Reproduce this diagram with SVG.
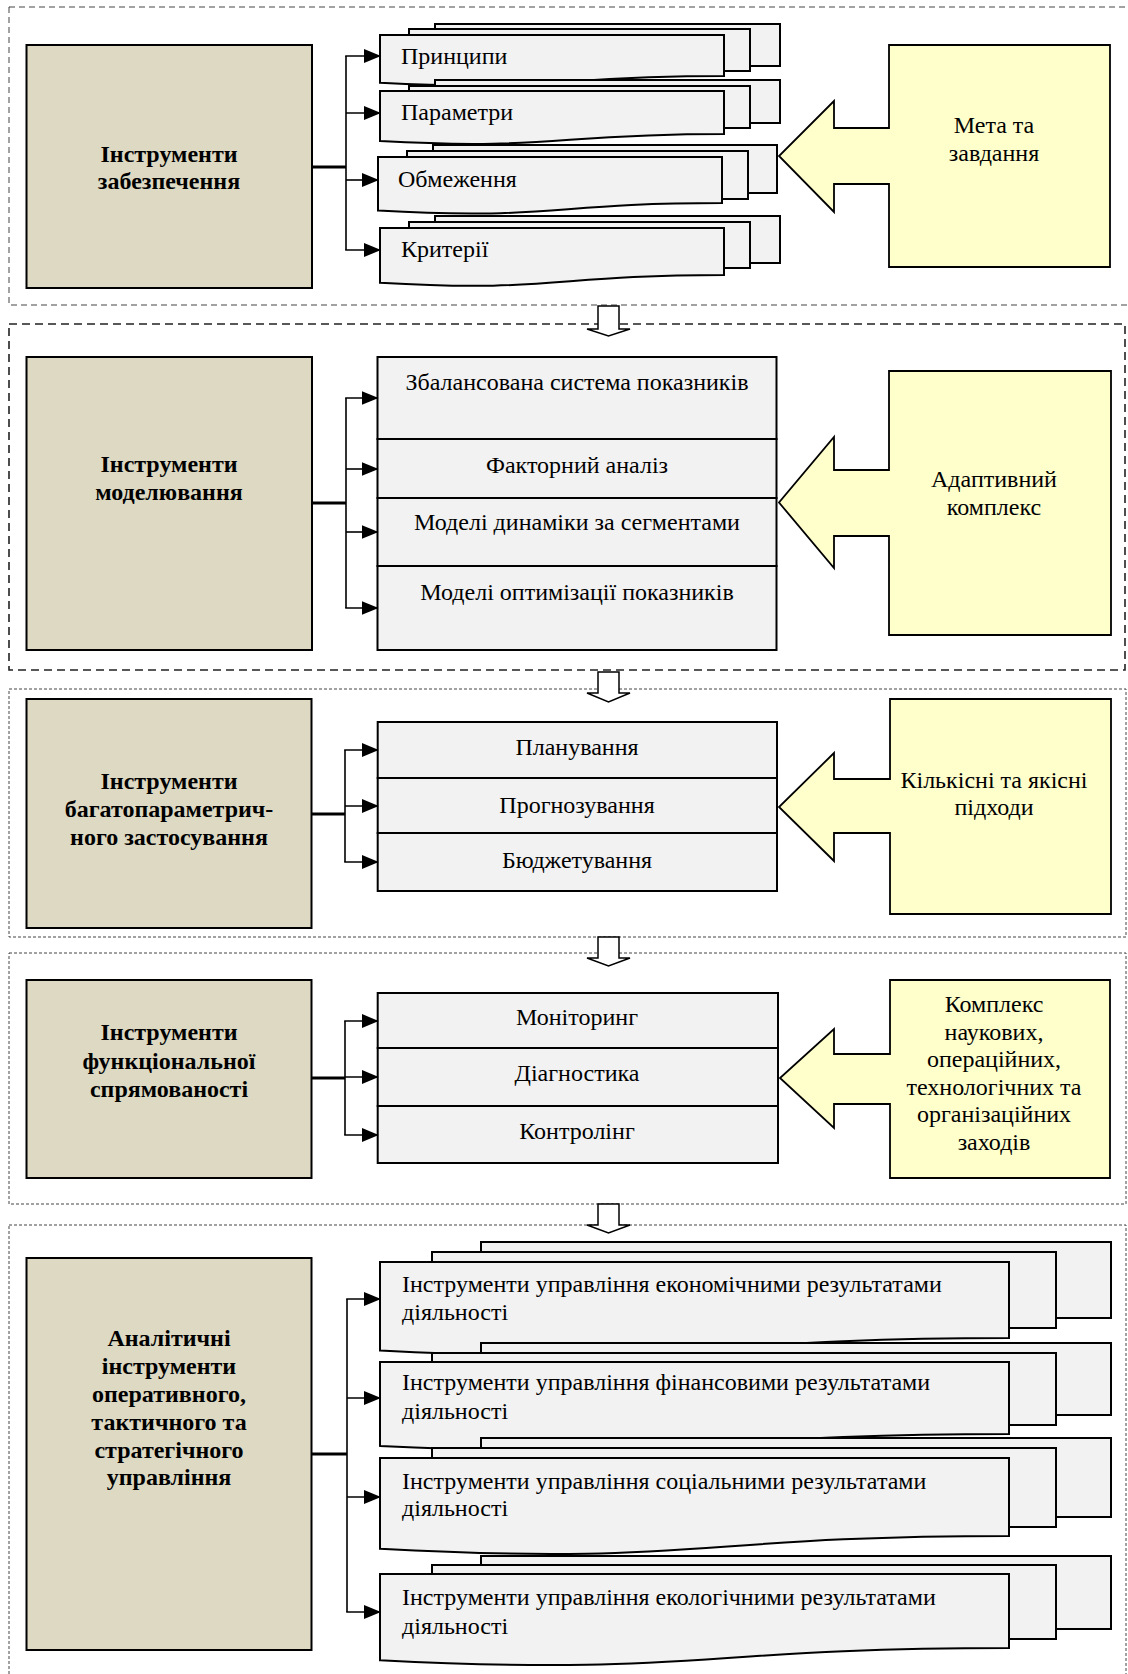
<svg xmlns="http://www.w3.org/2000/svg" width="1128" height="1674" viewBox="0 0 1128 1674">
<defs>
<marker id="ah" markerUnits="userSpaceOnUse" markerWidth="17" markerHeight="14" viewBox="0 0 17 14" refX="16" refY="7" orient="auto">
<path d="M0,0 L17,7 L0,14 Z" fill="#000"/>
</marker>
</defs>
<style>
text{font-family:"Liberation Serif","Times New Roman",serif;font-size:24px;fill:#000}
.b{font-weight:bold;text-anchor:middle}
.c{text-anchor:middle}
.tan{fill:#DDD9C3;stroke:#000;stroke-width:2}
.doc{fill:#F2F2F2;stroke:#000;stroke-width:2}
.yel{fill:#FFFFCC;stroke:#000;stroke-width:1.8}
.hol{fill:#fff;stroke:#000;stroke-width:1.5}
.f1{fill:none;stroke:#444;stroke-width:1;stroke-dasharray:6 4}
.f2{fill:none;stroke:#222;stroke-width:1.6;stroke-dasharray:8 5}
.f3{fill:none;stroke:#444;stroke-width:1;stroke-dasharray:3 2}
.ln{fill:none;stroke:#000;stroke-width:1.6}
.tr{fill:none;stroke:#000;stroke-width:3}
.ar{fill:none;stroke:#000;stroke-width:1.6;marker-end:url(#ah)}
</style>

<g id="frames">
<rect class="f1" x="9" y="7" width="1130" height="298"/>
<rect class="f2" x="9" y="324" width="1116" height="346"/>
<rect class="f3" x="9" y="689" width="1117" height="248"/>
<rect class="f3" x="9" y="953" width="1117" height="251"/>
<rect class="f3" x="9" y="1225" width="1117" height="480"/>
</g>

<g id="section-arrows">
<path class="hol" d="M598,306 H619 V329 H630 L608.5,336 L587,329 H598 Z"/>
<path class="hol" d="M598,672 H619 V693 H630 L608.5,702 L587,693 H598 Z"/>
<path class="hol" d="M598,937 H619 V958 H630 L608.5,966 L587,958 H598 Z"/>
<path class="hol" d="M598,1204 H619 V1225 H630 L608.5,1233 L587,1225 H598 Z"/>
</g>

<!-- Section 1 -->
<g id="n-zabezpechennya">
<rect class="tan" x="26.5" y="45" width="285.5" height="243"/>
<text class="b" x="169" y="162">Інструменти</text>
<text class="b" x="169" y="189">забезпечення</text>
</g>
<g id="n-pryntsypy">
<rect class="doc" x="435" y="24" width="345" height="42"/>
<rect class="doc" x="409" y="29" width="341" height="42"/>
<path class="doc" d="M380,35 H724 V76 C552,76 552,91.6 380,82.7 Z"/>
<text x="401" y="64">Принципи</text>
</g>
<g id="n-parametry">
<rect class="doc" x="435" y="80" width="345" height="43"/>
<rect class="doc" x="409" y="86" width="341" height="42"/>
<path class="doc" d="M380,91 H724 V134 C552,134 552,150.3 380,141.1 Z"/>
<text x="401" y="120">Параметри</text>
</g>
<g id="n-obmezhennya">
<rect class="doc" x="433" y="145" width="344" height="48"/>
<rect class="doc" x="407" y="151" width="341" height="48"/>
<path class="doc" d="M378,157 H722 V203 C550,203 550,220.5 378,210.6 Z"/>
<text x="398" y="187">Обмеження</text>
</g>
<g id="n-kryterii">
<rect class="doc" x="435" y="216" width="345" height="47"/>
<rect class="doc" x="409" y="222" width="341" height="46"/>
<path class="doc" d="M380,228 H724 V275 C552,275 552,292.9 380,282.7 Z"/>
<text x="401" y="257">Критерії</text>
</g>
<g id="n-meta">
<path class="yel" d="M889,45 H1110 V267 H889 V184 H834 V212 L779,156 L834,101 V128 H889 Z"/>
<text class="c" x="994" y="133">Мета та</text>
<text class="c" x="994" y="161">завдання</text>
</g>

<!-- Section 2 -->
<g id="n-modelyuvannya">
<rect class="tan" x="26.5" y="357" width="285.5" height="293"/>
<text class="b" x="169" y="472">Інструменти</text>
<text class="b" x="169" y="500">моделювання</text>
</g>
<g id="n-bsc">
<rect class="doc" x="377.5" y="357" width="399" height="82"/>
<text class="c" x="577" y="390">Збалансована система показників</text>
</g>
<g id="n-faktornyi">
<rect class="doc" x="377.5" y="439" width="399" height="59"/>
<text class="c" x="577" y="473">Факторний аналіз</text>
</g>
<g id="n-dynamika">
<rect class="doc" x="377.5" y="498" width="399" height="68"/>
<text class="c" x="577" y="530">Моделі динаміки за сегментами</text>
</g>
<g id="n-optymizatsiya">
<rect class="doc" x="377.5" y="566" width="399" height="84"/>
<text class="c" x="577" y="600">Моделі оптимізації показників</text>
</g>
<g id="n-adaptyvnyi">
<path class="yel" d="M889,371 H1111 V635 H889 V536 H834 V568 L779,502.5 L834,437 V470 H889 Z"/>
<text class="c" x="994" y="487">Адаптивний</text>
<text class="c" x="994" y="515">комплекс</text>
</g>

<!-- Section 3 -->
<g id="n-bagatoparam">
<rect class="tan" x="26.5" y="699" width="285" height="229"/>
<text class="b" x="169" y="789">Інструменти</text>
<text class="b" x="169" y="817">багатопараметрич-</text>
<text class="b" x="169" y="845">ного застосування</text>
</g>
<g id="n-planuvannya">
<rect class="doc" x="377.7" y="722" width="399.3" height="56"/>
<text class="c" x="577" y="755">Планування</text>
</g>
<g id="n-prognozuvannya">
<rect class="doc" x="377.7" y="778" width="399.3" height="55"/>
<text class="c" x="577" y="813">Прогнозування</text>
</g>
<g id="n-budzhetuvannya">
<rect class="doc" x="377.7" y="833" width="399.3" height="58"/>
<text class="c" x="577" y="868">Бюджетування</text>
</g>
<g id="n-pidkhody">
<path class="yel" d="M890,699 H1111 V914 H890 V833 H834 V861 L779,807 L834,753 V779 H890 Z"/>
<text class="c" x="994" y="788">Кількісні та якісні</text>
<text class="c" x="994" y="815">підходи</text>
</g>

<!-- Section 4 -->
<g id="n-funktsionalnoi">
<rect class="tan" x="26.5" y="980" width="285" height="198"/>
<text class="b" x="169" y="1040">Інструменти</text>
<text class="b" x="169" y="1069">функціональної</text>
<text class="b" x="169" y="1097">спрямованості</text>
</g>
<g id="n-monitorynh">
<rect class="doc" x="377.7" y="993" width="400.3" height="55"/>
<text class="c" x="577" y="1025">Моніторинг</text>
</g>
<g id="n-diagnostyka">
<rect class="doc" x="377.7" y="1048" width="400.3" height="58"/>
<text class="c" x="577" y="1081">Діагностика</text>
</g>
<g id="n-kontrolinh">
<rect class="doc" x="377.7" y="1106" width="400.3" height="57"/>
<text class="c" x="577" y="1139">Контролінг</text>
</g>
<g id="n-kompleks">
<path class="yel" d="M890,980 H1110 V1178 H890 V1104 H834 V1128 L780,1078 L834,1029 V1054 H890 Z"/>
<text class="c" x="994" y="1012">Комплекс</text>
<text class="c" x="994" y="1040">наукових,</text>
<text class="c" x="994" y="1067">операційних,</text>
<text class="c" x="994" y="1095">технологічних та</text>
<text class="c" x="994" y="1122">організаційних</text>
<text class="c" x="994" y="1150">заходів</text>
</g>

<!-- Section 5 -->
<g id="n-analitychni">
<rect class="tan" x="26.5" y="1258" width="285" height="392"/>
<text class="b" x="169" y="1346">Аналітичні</text>
<text class="b" x="169" y="1374">інструменти</text>
<text class="b" x="169" y="1402">оперативного,</text>
<text class="b" x="169" y="1430">тактичного та</text>
<text class="b" x="169" y="1458">стратегічного</text>
<text class="b" x="169" y="1485">управління</text>
</g>
<g id="n-ekonomichni">
<rect class="doc" x="481" y="1242" width="630" height="76"/>
<rect class="doc" x="432" y="1252" width="624" height="76"/>
<path class="doc" d="M380,1262 H1009 V1338 C694.5,1338 694.5,1366.9 380,1350.5 Z"/>
<text x="402" y="1292">Інструменти управління економічними результатами</text>
<text x="402" y="1320">діяльності</text>
</g>
<g id="n-finansovi">
<rect class="doc" x="481" y="1343" width="630" height="72"/>
<rect class="doc" x="432" y="1353" width="624" height="72"/>
<path class="doc" d="M380,1362 H1009 V1434 C694.5,1434 694.5,1461.4 380,1445.9 Z"/>
<text x="402" y="1390">Інструменти управління фінансовими результатами</text>
<text x="402" y="1419">діяльності</text>
</g>
<g id="n-sotsialni">
<rect class="doc" x="481" y="1438" width="630" height="79"/>
<rect class="doc" x="432" y="1448" width="624" height="79"/>
<path class="doc" d="M380,1458 H1009 V1536 C694.5,1536 694.5,1565.7 380,1548.8 Z"/>
<text x="402" y="1489">Інструменти управління соціальними результатами</text>
<text x="402" y="1516">діяльності</text>
</g>
<g id="n-ekologichni">
<rect class="doc" x="481" y="1556" width="630" height="73"/>
<rect class="doc" x="432" y="1565" width="624" height="74"/>
<path class="doc" d="M380,1574 H1009 V1648 C694.5,1648 694.5,1676.2 380,1660.2 Z"/>
<text x="402" y="1605">Інструменти управління екологічними результатами</text>
<text x="402" y="1634">діяльності</text>
</g>

<g id="connectors">
<!-- section 1 -->
<path class="tr" d="M312,167 H346"/>
<path class="ln" d="M346,56 V250"/>
<path class="ar" d="M345.2,56 H380"/>
<path class="ar" d="M346,113 H380"/>
<path class="ar" d="M346,180 H378"/>
<path class="ar" d="M345.2,250 H380"/>
<!-- section 2 -->
<path class="tr" d="M312,503 H346"/>
<path class="ln" d="M346,398 V608"/>
<path class="ar" d="M345.2,398 H377.5"/>
<path class="ar" d="M346,469 H377.5"/>
<path class="ar" d="M346,532 H377.5"/>
<path class="ar" d="M345.2,608 H377.5"/>
<!-- section 3 -->
<path class="tr" d="M311.5,814 H345"/>
<path class="ln" d="M345,750 V862"/>
<path class="ar" d="M344.2,750 H377.7"/>
<path class="ar" d="M345,806 H377.7"/>
<path class="ar" d="M344.2,862 H377.7"/>
<!-- section 4 -->
<path class="tr" d="M311.5,1078 H345"/>
<path class="ln" d="M345,1021 V1135"/>
<path class="ar" d="M344.2,1021 H377.7"/>
<path class="ar" d="M345,1077 H377.7"/>
<path class="ar" d="M344.2,1135 H377.7"/>
<!-- section 5 -->
<path class="tr" d="M311.5,1454 H347"/>
<path class="ln" d="M347,1299 V1612"/>
<path class="ar" d="M346.2,1299 H380"/>
<path class="ar" d="M347,1398 H380"/>
<path class="ar" d="M347,1497 H380"/>
<path class="ar" d="M346.2,1612 H380"/>
</g>
</svg>
